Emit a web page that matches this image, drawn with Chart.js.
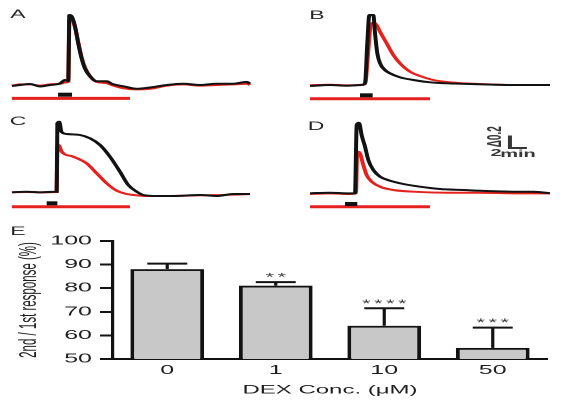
<!DOCTYPE html>
<html><head><meta charset="utf-8">
<script src="https://cdn.jsdelivr.net/npm/chart.js@4/dist/chart.umd.min.js"></script>
<style>
html,body{margin:0;padding:0;background:#fff;overflow:hidden;width:563px;height:401px;}
#wrap{position:absolute;left:0;top:0;width:282px;height:401px;transform:scaleX(2);transform-origin:0 0;}
canvas{position:absolute;}
</style></head><body>
<div id="wrap">
<canvas id="cA" width="140" height="110" style="left:0;top:0;width:140px;height:110px"></canvas>
<canvas id="cB" width="140" height="110" style="left:140px;top:0;width:140px;height:110px"></canvas>
<canvas id="cC" width="140" height="110" style="left:0;top:107px;width:140px;height:110px"></canvas>
<canvas id="cD" width="140" height="110" style="left:140px;top:107px;width:140px;height:110px"></canvas>
<canvas id="cE" width="282" height="181" style="left:0;top:220px;width:282px;height:181px"></canvas>
</div>
<script>
// ---------- Panel A (time in min, ratio change) ----------
const aTime  = [1.41,2.36,3.54,4.71,5.89,7.07,7.66,8.05,8.17,8.45,8.84,9.23,9.63,10.02,10.61,11.40,12.58,13.16,14.53,16.11,17.68,19.65,21.60,23.57,25.54,27.50,29.08,29.46];
const aBlack = [-0.016,0,0.016,-0.024,0,0.024,0.08,0.064,1.12,1.10,0.94,0.66,0.42,0.26,0.14,0.06,0.06,0.02,-0.02,-0.06,-0.04,0,0.02,0,0.02,0.02,0.05,0.02];
const aRed   = [-0.01,0.01,0.01,-0.01,0.01,0.02,0.04,0.05,1.04,1.06,0.92,0.68,0.44,0.28,0.14,0.05,0.03,0,-0.05,-0.07,-0.06,-0.01,0.01,-0.01,0,0.01,0.02,0];
// ---------- Panel B ----------
const bTimeBlack = [3.54,5.89,7.86,9.62,10.02,10.29,10.53,11.0,11.20,11.47,11.79,12.37,12.96,14.14,15.71,17.68,19.64,23.57,27.50,31.82];
const bBlack     = [-0.016,0,-0.011,0,0.027,0.667,1.12,1.12,0.827,0.507,0.347,0.24,0.187,0.123,0.08,0.043,0.027,0.011,0,0];
const bTimeRed   = [3.54,5.89,7.86,10.02,10.41,10.69,11.0,11.39,11.79,12.57,13.36,14.14,15.32,16.50,18.07,19.64,21.61,23.57,27.50,31.82];
const bRed       = [-0.005,0.005,-0.005,0.011,0.56,0.96,0.997,0.96,0.853,0.667,0.48,0.347,0.213,0.144,0.08,0.048,0.027,0.016,0,0];
// ---------- Panel C ----------
const cTimeBlack = [1.41,3.14,4.71,6.48,6.68,6.76,6.99,7.23,7.86,9.43,10.61,11.79,12.96,14.14,15.12,16.11,16.89,18.46,20.43,23.57,25.54,27.50,29.46];
const cBlack     = [-0.005,0.005,-0.005,0.005,0.005,1.099,1.125,0.965,0.928,0.912,0.859,0.752,0.565,0.325,0.112,0.005,-0.048,-0.064,-0.064,-0.048,-0.064,-0.032,-0.032];
const cTimeRed   = [1.41,3.14,4.71,6.68,6.76,6.91,7.27,8.64,10.21,11.39,12.57,13.75,14.93,16.11,17.29,19.64,23.57,27.50,29.46];
const cRed       = [-0.005,0,-0.005,0,0.725,0.752,0.645,0.565,0.459,0.299,0.139,0.021,-0.032,-0.053,-0.064,-0.064,-0.053,-0.043,-0.032];
// ---------- Panel D ----------
const dTimeBlack = [3.54,5.89,7.86,8.84,9.04,9.31,9.62,10.02,10.41,11.0,11.79,12.96,14.54,16.50,18.86,21.61,24.36,27.50,29.86,31.82];
const dBlack     = [-0.021,-0.011,-0.021,-0.021,1.072,1.109,0.912,0.725,0.512,0.352,0.245,0.181,0.128,0.085,0.048,0.032,0.016,0.005,0.005,-0.021];
const dTimeRed   = [3.54,5.89,7.86,8.96,9.07,9.19,9.43,9.82,10.21,10.80,11.79,13.36,15.71,19.64,23.57,27.50,31.82];
const dRed       = [-0.032,-0.021,-0.032,-0.021,0.565,0.645,0.619,0.432,0.272,0.165,0.085,0.032,0.005,-0.011,-0.011,-0.021,-0.021];
// ---------- Stimulus bars (start/end time, level) ----------
const stimRedTimes   = {A:[1.41,15.32], B:[3.54,17.68], C:[1.41,15.32], D:[3.54,17.68]};
const stimRedLevel   = {A:-0.213, B:-0.22, C:-0.235, D:-0.235};
const stimBlackTimes = {A:[6.84,8.49], B:[9.43,10.92], C:[5.50,6.76], D:[7.66,9.11]};
const stimBlackLevel = {A:-0.155, B:-0.165, C:-0.181, D:-0.192};
// ---------- Scale bar (2 min, Δ0.2) ----------
const scaleBarTime  = [27.1, 27.1, 29.1];
const scaleBarRatio = [0.904, 0.704, 0.704];
// ---------- Panel E ----------
const doseLabels = ['0','1','10','50'];
const ratioMean  = [88.1, 81.1, 64.1, 54.7];
const ratioSem   = [2.3, 1.5, 7.4, 8.6];
const sigStars   = ['', '**', '****', '***'];
const yTicks     = [50,60,70,80,90,100];

const RED = '#e4211c';
const INK = '#121212';
const TXT = '#1e1e1e';
Chart.defaults.font.family = '"Liberation Sans", Arial, Helvetica, sans-serif';

function pts(t, v){ return t.map((x,i)=>({x:x, y:v[i]})); }

function letterPlugin(letter, x, y){
  return { id:'letter'+letter, afterDraw(chart){
    const ctx = chart.ctx; ctx.save();
    ctx.fillStyle = '#262626'; ctx.font = '11.5px "Liberation Sans", Arial, sans-serif';
    ctx.textAlign = 'center'; ctx.textBaseline = 'middle';
    ctx.fillText(letter, x, y); ctx.restore();
  }};
}

const scaleTextPlugin = { id:'scaleText', afterDatasetsDraw(chart){
  const xs = chart.scales.x, ys = chart.scales.y, ctx = chart.ctx;
  const x0 = xs.getPixelForValue(scaleBarTime[1]);
  const yTop = ys.getPixelForValue(scaleBarRatio[0]);
  const yBot = ys.getPixelForValue(scaleBarRatio[1]);
  ctx.save();
  ctx.fillStyle = '#363636'; ctx.font = 'bold 10px "Liberation Sans", Arial, sans-serif';
  ctx.textAlign = 'center'; ctx.textBaseline = 'middle';
  ctx.save(); ctx.translate(x0 - 7, (yTop + yBot)/2 - 5); ctx.rotate(-Math.PI/2);
  ctx.fillText('Δ0.2', 0, 0); ctx.restore();
  ctx.fillText('2', x0 - 7, yBot + 5);
  ctx.fillText('min', x0 + 4, yBot + 6);
  ctx.restore();
}};

function tracePanel(id, key, tK, vK, tR, vR, lx, ly, extra){
  const datasets = [
    {data: pts(tK, vK), borderColor: INK, borderWidth: 2, pointRadius: 0, cubicInterpolationMode:'monotone'},
    {data: pts(tR, vR), borderColor: RED, borderWidth: 2, pointRadius: 0, cubicInterpolationMode:'monotone'},
    {data: stimBlackTimes[key].map(t=>({x:t, y:stimBlackLevel[key]})), borderColor: INK, borderWidth: 4, pointRadius: 0},
    {data: stimRedTimes[key].map(t=>({x:t, y:stimRedLevel[key]})), borderColor: RED, borderWidth: 3, pointRadius: 0}
  ];
  const plugins = [letterPlugin(key, lx, ly)];
  if (extra){
    datasets.unshift({data: pts(scaleBarTime, scaleBarRatio), borderColor:'#363636', borderWidth: 2, pointRadius: 0});
    plugins.push(scaleTextPlugin);
  }
  new Chart(document.getElementById(id), {
    type: 'line',
    data: { datasets },
    options: {
      responsive: false, animation: false, devicePixelRatio: 2,
      layout: { padding: 0 },
      plugins: { legend: {display:false}, tooltip: {enabled:false} },
      scales: {
        x: { type:'linear', min:0, max:33, display:false },
        y: { type:'linear', min:-0.4, max:1.36, display:false }
      }
    },
    plugins
  });
}

tracePanel('cA', 'A', aTime, aBlack, aTime, aRed, 9, 15, false);
tracePanel('cB', 'B', bTimeBlack, bBlack, bTimeRed, bRed, 18.5, 16, false);
tracePanel('cC', 'C', cTimeBlack, cBlack, cTimeRed, cRed, 9, 15, false);
tracePanel('cD', 'D', dTimeBlack, dBlack, dTimeRed, dRed, 18, 20, true);

const errorPlugin = { id:'errStars', afterDatasetsDraw(chart){
  const ctx = chart.ctx, ys = chart.scales.y, meta = chart.getDatasetMeta(0);
  ctx.save();
  ratioMean.forEach((m,i)=>{
    const x = meta.data[i].x;
    const yb = ys.getPixelForValue(m);
    const yt = ys.getPixelForValue(m + ratioSem[i]);
    ctx.strokeStyle = INK;
    ctx.lineWidth = 1.6;
    ctx.beginPath(); ctx.moveTo(x, yb); ctx.lineTo(x, yt); ctx.stroke();
    ctx.lineWidth = 2;
    ctx.beginPath(); ctx.moveTo(x-10, yt); ctx.lineTo(x+10, yt); ctx.stroke();
    const s = sigStars[i];
    ctx.fillStyle = '#3a3a3a'; ctx.font = '11px "Liberation Sans", Arial, sans-serif';
    ctx.textAlign = 'center'; ctx.textBaseline = 'alphabetic';
    for (let k=0;k<s.length;k++){
      ctx.fillText('*', x + (k - (s.length-1)/2)*6, yt - 1.5);
    }
  });
  ctx.restore();
}};

new Chart(document.getElementById('cE'), {
  type: 'bar',
  data: { labels: doseLabels, datasets: [{ data: ratioMean, backgroundColor:'#c8c8c8', borderColor: INK, borderWidth: 2, barPercentage: 0.68, categoryPercentage: 1 }] },
  options: {
    responsive: false, animation: false, devicePixelRatio: 2,
    layout: { padding: { top: 21, right: 8.5, left: 0, bottom: 0 } },
    plugins: { legend:{display:false}, tooltip:{enabled:false} },
    scales: {
      x: {
        grid: { display:true, drawOnChartArea:false, drawTicks:false },
        border: { display:true, color: INK, width: 2 },
        ticks: { color: TXT, font:{size:12.5}, padding:4 },
        title: { display:true, text:'DEX Conc. (μM)', color: TXT, font:{size:12}, padding:{top:0, bottom:3.8} },
        afterFit(s){ s.height = 42; }
      },
      y: {
        min: 50, max: 100,
        afterBuildTicks(s){ s.ticks = yTicks.map(v=>({value:v})); },
        ticks: { color: TXT, font:{size:12.5}, padding:4 },
        grid: { display:true, drawOnChartArea:false, drawTicks:true, tickLength:6.5, tickWidth:2, tickColor: INK, color: INK },
        border: { display:true, color: INK, width: 1.6 },
        title: { display:true, text:'2nd / 1st response (%)', color: TXT, font:{size:11.5}, padding:{top:8.1, bottom:0} },
        afterFit(s){ s.width = 56.5; }
      }
    }
  },
  plugins: [errorPlugin, letterPlugin('E', 9, 12)]
});
</script>
</body></html>
